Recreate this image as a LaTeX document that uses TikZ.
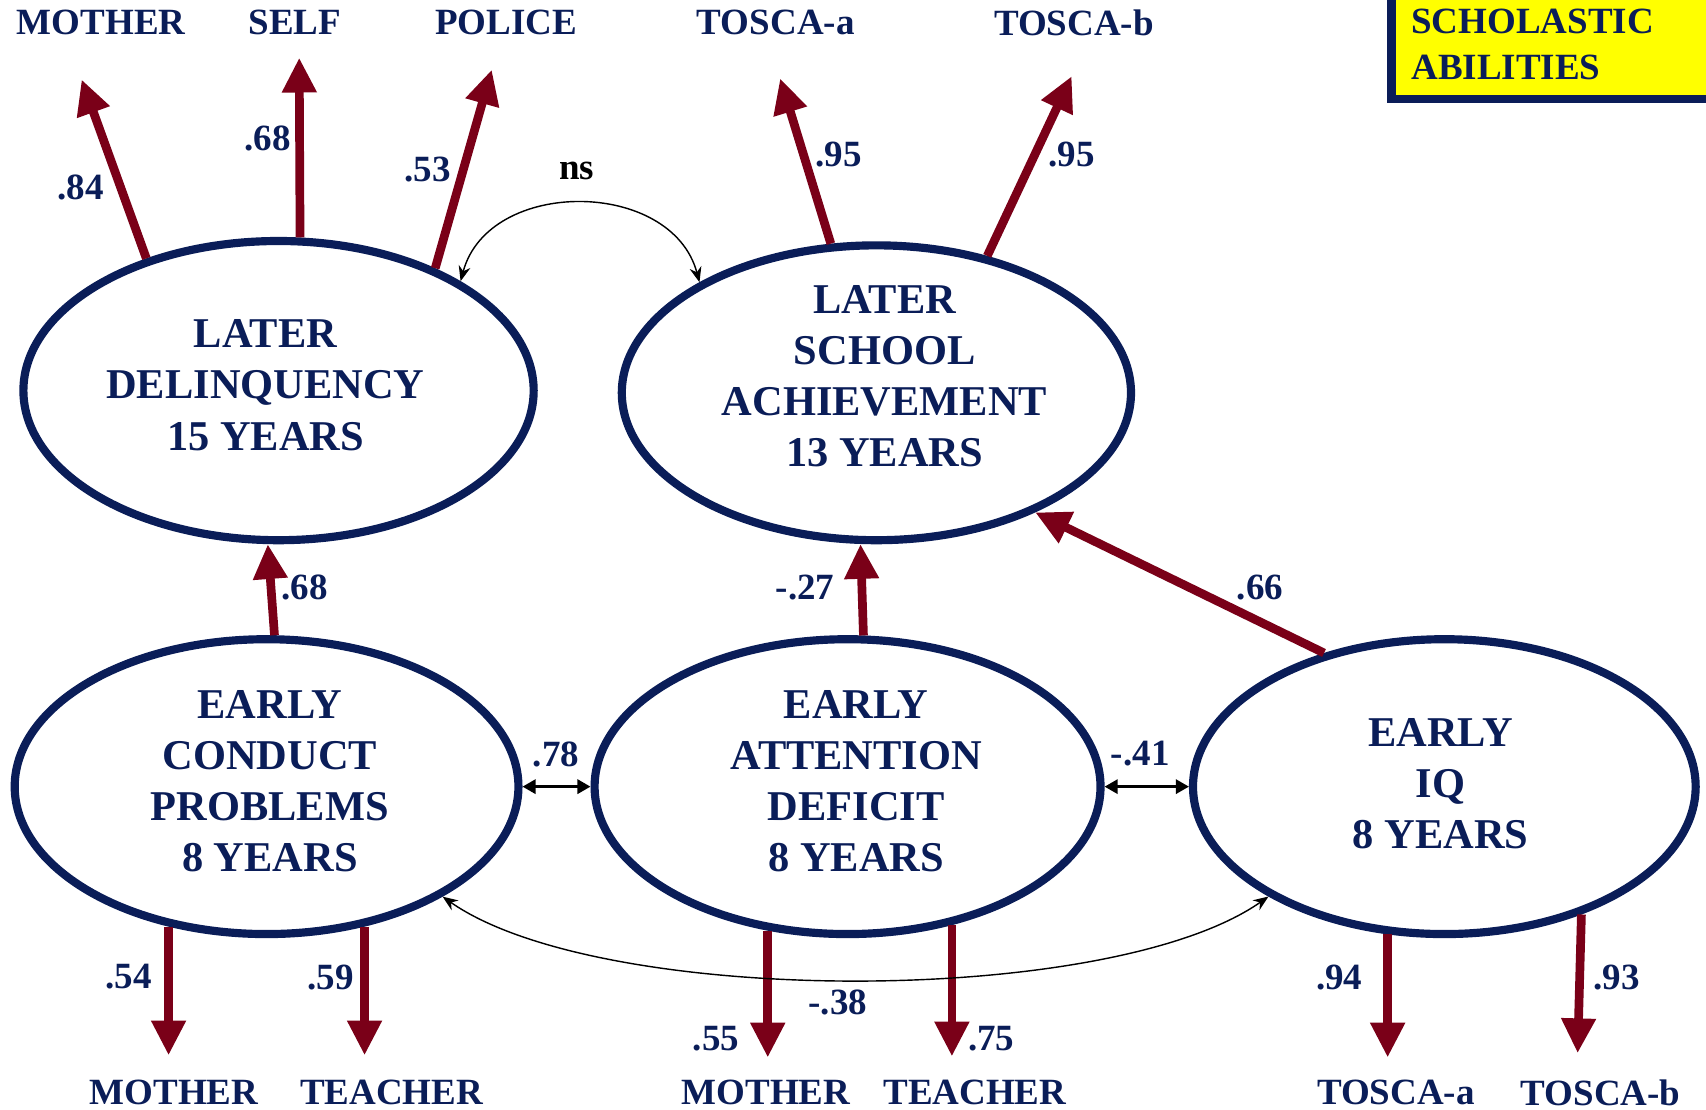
\documentclass[tikz,border=0pt]{standalone}
\usepackage{fontspec}
\setmainfont{Liberation Serif}
\usetikzlibrary{arrows.meta,shapes.geometric}
\definecolor{navy}{RGB}{10,29,88}
\definecolor{dred}{RGB}{122,0,24}
\definecolor{yel}{RGB}{255,255,0}
\begin{document}
\begin{tikzpicture}[x=1pt,y=-1pt,
 lbl/.style={font=\fontsize{34}{40}\selectfont\bfseries, text=navy, inner sep=0pt},
 etext/.style={font=\fontsize{39}{47}\selectfont\bfseries, text=navy, align=center, inner sep=0pt},
 latent/.style={ellipse, draw=navy, line width=7.5pt, inner sep=0pt},
 load/.style={draw=dred, line width=8pt, -{Triangle[width=30pt,length=32pt]}},
 cov/.style={draw=black, line width=2.5pt, {Triangle[width=13pt,length=12pt]}-{Triangle[width=13pt,length=12pt]}},
 corr/.style={draw=black, line width=1.3pt, {Stealth[width=11pt,length=14pt]}-{Stealth[width=11pt,length=14pt]}},
]
\fill[white] (0,0) rectangle (1568,1020);
\useasboundingbox (0,0) rectangle (1568,1020);

% legend box
\draw[navy, line width=8pt, fill=yel] (1279,-20) rectangle (1620,91);
\node[lbl, anchor=west] (sch) at (1297,20) {SCHOLASTIC};
\node[lbl, anchor=west] (abi) at (1297,62) {ABILITIES};

% latent variables
\node[latent, minimum width=469pt, minimum height=275pt] (LD) at (256,359) {};
\node[latent, minimum width=468pt, minimum height=271pt] (LSA) at (805.5,361) {};
\node[latent, minimum width=463pt, minimum height=271pt] (ECP) at (245,723) {};
\node[latent, minimum width=465pt, minimum height=271pt] (EAD) at (779,723) {};
\node[latent, minimum width=462pt, minimum height=271pt] (EIQ) at (1327.5,723) {};

\node[etext] (LDt) at (244,354) {LATER\\DELINQUENCY\\15 YEARS};
\node[etext] (LSAt) at (813,345.5) {LATER\\SCHOOL\\ACHIEVEMENT\\13 YEARS};
\node[etext] (ECPt) at (248,718) {EARLY\\CONDUCT\\PROBLEMS\\8 YEARS};
\node[etext] (EADt) at (787,718) {EARLY\\ATTENTION\\DEFICIT\\8 YEARS};
\node[etext] (EIQt) at (1324,720) {EARLY\\IQ\\8 YEARS};

% indicator labels
\node[lbl] (tmo) at (93,21) {MOTHER};
\node[lbl] (tse) at (271,21) {SELF};
\node[lbl] (tpo) at (465,21) {POLICE};
\node[lbl] (tta) at (713,21) {TOSCA-a};
\node[lbl] (ttb) at (987,21) {TOSCA-b};
\node[lbl] (bmo1) at (160,1004) {MOTHER};
\node[lbl] (bte1) at (360,1004) {TEACHER};
\node[lbl] (bmo2) at (704,1004) {MOTHER};
\node[lbl] (bte2) at (896,1004) {TEACHER};
\node[lbl] (bta) at (1283,1004) {TOSCA-a};
\node[lbl] (btb) at (1471,1004) {TOSCA-b};

% arrow tips
\coordinate (cmo) at (75,73);
\coordinate (cse) at (275,53);
\coordinate (cpo) at (452,64);
\coordinate (cta) at (717,72);
\coordinate (ctb) at (985,70);
\coordinate (dmo1) at (154,970);
\coordinate (dte1) at (336,970);
\coordinate (dmo2) at (705,972);
\coordinate (dte2) at (875,971);
\coordinate (dta) at (1275,972);
\coordinate (dtb) at (1450,968);

% loadings
\draw[load] (LD.135.5) -- (cmo);
\draw[load] (LD.82.5) -- (cse);
\draw[load] (LD.38.8) -- (cpo);
\draw[load] (LSA.107.3) -- (cta);
\draw[load] (LSA.51.6) -- (ctb);
\draw[load] (ECP.235) -- (ECP.235 |- dmo1);
\draw[load] (ECP.-55) -- (ECP.-55 |- dte1);
\draw[load] (EAD.241) -- (EAD.241 |- dmo2);
\draw[load] (EAD.-53.6) -- (EAD.-53.6 |- dte2);
\draw[load] (EIQ.249) -- (EIQ.249 |- dta);
\draw[load] (EIQ.-43.6) -- (dtb);

% structural paths
\draw[load] (ECP.87.5) -- (LD.266.3);
\draw[load] (EAD.84.7) -- (LSA.264.5);
\draw[load] (EIQ.132.5) -- (LSA.-37);

% covariances
\draw[cov] (ECP.east) -- (EAD.west);
\draw[cov] (EAD.east) -- (EIQ.west);
\draw[corr] (LD.31.6) to[out=75,in=105,looseness=1.15] (LSA.148);
\draw[corr] (ECP.-32.8) to[out=-35,in=-145,looseness=0.6] (EIQ.212.4);

% coefficients
\node[lbl] (n1) at (74,172) {.84};
\node[lbl] (n2) at (246,127) {.68};
\node[lbl] (n3) at (393,156) {.53};
\node[lbl] (n4) at (771,142) {.95};
\node[lbl] (n5) at (985,142) {.95};
\node[lbl, text=black] (ns) at (530,157) {ns};
\node[lbl] (n6) at (280,540) {.68};
\node[lbl] (n7) at (740,540) {-.27};
\node[lbl] (n8) at (1158,540) {.66};
\node[lbl] (n9) at (511,693) {.78};
\node[lbl] (n10) at (1048,693) {-.41};
\node[lbl] (n11) at (118,898) {.54};
\node[lbl] (n12) at (304,898) {.59};
\node[lbl] (n13) at (658,955) {.55};
\node[lbl] (n14) at (911,955) {.75};
\node[lbl] (n15) at (770,921) {-.38};
\node[lbl] (n16) at (1231,898) {.94};
\node[lbl] (n17) at (1486,898) {.93};
\end{tikzpicture}
\end{document}
